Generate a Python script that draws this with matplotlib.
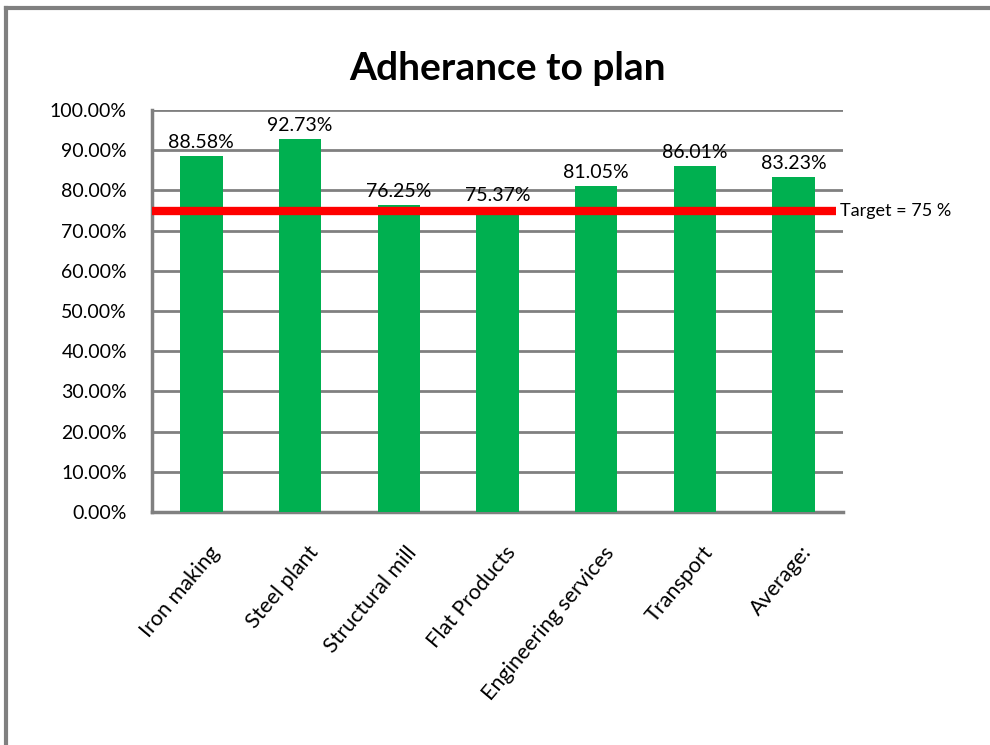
import matplotlib
matplotlib.use("Agg")
import matplotlib.pyplot as plt
from matplotlib.lines import Line2D
from matplotlib.ticker import PercentFormatter
from matplotlib.transforms import ScaledTranslation

categories = ["Iron making", "Steel plant", "Structural mill", "Flat Products",
              "Engineering services", "Transport", "Average:"]
values = [88.58, 92.73, 76.25, 75.37, 81.05, 86.01, 83.23]
target = 75
target_label = "Target = 75 %"
title = "Adherance to plan"

plt.rcParams['font.family'] = ['Lato', 'DejaVu Sans']

fig = plt.figure(figsize=(9.9, 7.45), dpi=100)
ax = fig.add_axes([0.1535, 0.3128, 0.698, 0.5395])

x = list(range(len(categories)))
ax.bar(x, values, width=0.43, color="#00B050", zorder=3)
for xi, v in zip(x, values):
    ax.text(xi, v + 1.3, f"{v:.2f}%", ha="center", va="bottom", fontsize=14, zorder=5)

ax.set_xlim(-0.5, len(categories) - 0.5)
ax.set_ylim(0, 100)
ax.set_yticks(range(0, 101, 10))
ax.yaxis.set_major_formatter(PercentFormatter(decimals=2))
ax.grid(axis="y", color="#808080", linewidth=2, zorder=0)
ax.set_axisbelow(True)
for s in ["top", "right"]:
    ax.spines[s].set_visible(False)
for s in ["left", "bottom"]:
    ax.spines[s].set_color("#808080")
    ax.spines[s].set_linewidth(2.5)
ax.tick_params(axis="both", length=0, labelsize=14, colors="black")
ax.tick_params(axis="y", pad=18)
ax.set_xticks(x)
ax.set_xticklabels(categories, rotation=50, ha="right", rotation_mode="anchor", fontsize=15.5)
ax.tick_params(axis="x", pad=22)
offset = ScaledTranslation(0.07, 0, fig.dpi_scale_trans)
for lab in ax.get_xticklabels():
    lab.set_transform(lab.get_transform() + offset)

# target line extends slightly beyond the last bar
ax.plot([-0.5, len(categories) - 0.57], [target, target], color="red", linewidth=6,
        zorder=4, solid_capstyle="butt", clip_on=False)
ax.text(len(categories) - 0.53, target, target_label, va="center", ha="left",
        fontsize=13, clip_on=False)

fig.text(0.513, 0.908, title, ha="center", va="center", fontsize=28, fontweight="bold")

# outer chart frame (top and left visible)
fig.add_artist(Line2D([6/990, 1.0], [1 - 8/745, 1 - 8/745], color="#808080", linewidth=3,
                      transform=fig.transFigure))
fig.add_artist(Line2D([6/990, 6/990], [0.0, 1 - 8/745], color="#808080", linewidth=3,
                      transform=fig.transFigure))

fig.savefig("out.png", dpi=100)
